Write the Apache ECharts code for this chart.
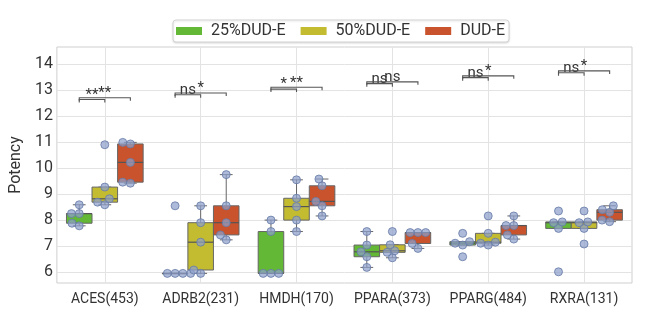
<!DOCTYPE html>
<html><head><meta charset="utf-8">
<script src="https://cdn.jsdelivr.net/npm/echarts@6/dist/echarts.min.js"></script>
<style>html,body{margin:0;padding:0;background:#fff}#c{width:650px;height:325px}</style>
</head><body><div id="c"></div>
<script>
// ---- data ----
const categories = ['ACES(453)', 'ADRB2(231)', 'HMDH(170)', 'PPARA(373)', 'PPARG(484)', 'RXRA(131)'];
const hueNames = ['25%DUD-E', '50%DUD-E', 'DUD-E'];
const pts25 = [
  [8.59, 8.25, 8.25, 7.88, 7.78],
  [8.55, 5.95, 5.95, 5.95, 5.95],
  [8.0, 7.56, 5.95, 5.95, 5.95],
  [7.56, 7.04, 6.78, 6.59, 6.18],
  [7.49, 7.17, 7.11, 7.04, 6.59],
  [8.35, 7.93, 7.9, 7.68, 6.01]
];
const pts50 = [
  [10.9, 9.27, 8.82, 8.69, 8.59],
  [8.55, 7.9, 7.15, 6.08, 5.95],
  [9.55, 8.84, 8.52, 8.0, 7.56],
  [7.56, 7.05, 6.82, 6.76, 6.55],
  [8.16, 7.49, 7.15, 7.11, 7.04],
  [8.35, 7.93, 7.9, 7.68, 7.08]
];
const ptsFull = [
  [10.99, 10.93, 10.22, 9.46, 9.42],
  [9.75, 8.55, 7.9, 7.43, 7.24],
  [9.58, 9.32, 8.72, 8.55, 8.16],
  [7.52, 7.52, 7.52, 7.1, 6.91],
  [8.16, 7.79, 7.79, 7.43, 7.27],
  [8.55, 8.4, 8.3, 8.0, 7.94]
];
const yTicks = [6, 7, 8, 9, 10, 11, 12, 13, 14];
const sigGY = ['**', 'ns', '*', 'ns', 'ns', 'ns'];   // 25% vs 50%
const sigGO = ['**', '*', '**', 'ns', '*', '*'];     // 25% vs full
const sigLevel = [12.64, 12.82, 13.04, 13.25, 13.48, 13.67];

// ---- style / layout constants ----
const HUE_COLORS = ['#63b935', '#c3bc30', '#c9532c'];
const LINE = '#666666';
const BOX_W = 0.8 / 3;
const OFFS = [-0.8 / 3, 0, 0.8 / 3];
const R = 3.7;
const FONT = 'Roboto';

function quantile(s, q) {
  const pos = (s.length - 1) * q, lo = Math.floor(pos), hi = Math.ceil(pos);
  return s[lo] + (s[hi] - s[lo]) * (pos - lo);
}
function boxStats(vals) {
  const s = vals.slice().sort((a, b) => a - b);
  const q1 = quantile(s, 0.25), md = quantile(s, 0.5), q3 = quantile(s, 0.75);
  const iqr = q3 - q1;
  const lo = s.filter(v => v >= q1 - 1.5 * iqr)[0];
  const hiArr = s.filter(v => v <= q3 + 1.5 * iqr);
  const hi = hiArr[hiArr.length - 1];
  return [lo, q1, md, q3, hi];
}
const allPts = [pts25, pts50, ptsFull];

function renderBox(params, api) {
  const x = api.value(0);
  const mn = api.coord([x, api.value(1)]);
  const q1 = api.coord([x, api.value(2)]);
  const md = api.coord([x, api.value(3)]);
  const q3 = api.coord([x, api.value(4)]);
  const mx = api.coord([x, api.value(5)]);
  const w = api.size([BOX_W, 0])[0];
  const cx = mn[0];
  const ls = { stroke: LINE, lineWidth: 1 };
  return {
    type: 'group',
    children: [
      { type: 'line', shape: { x1: cx, y1: q3[1], x2: cx, y2: mx[1] }, style: ls },
      { type: 'line', shape: { x1: cx, y1: q1[1], x2: cx, y2: mn[1] }, style: ls },
      { type: 'line', shape: { x1: cx - w / 4, y1: mx[1], x2: cx + w / 4, y2: mx[1] }, style: ls },
      { type: 'line', shape: { x1: cx - w / 4, y1: mn[1], x2: cx + w / 4, y2: mn[1] }, style: ls },
      { type: 'rect', shape: { x: cx - w / 2, y: q3[1], width: w, height: Math.max(q1[1] - q3[1], 0.5) },
        style: { fill: api.visual('color'), stroke: LINE, lineWidth: 1 } },
      { type: 'line', shape: { x1: cx - w / 2, y1: md[1], x2: cx + w / 2, y2: md[1] }, style: { stroke: '#555', lineWidth: 1.2 } }
    ]
  };
}

function renderSig(params, api) {
  const i = api.value(0), h = api.value(1), kind = api.value(2);
  const x1 = i + OFFS[0], x2 = i + (kind === 0 ? OFFS[1] : OFFS[2]);
  const p1 = api.coord([x1, h]), p2 = api.coord([x2, h]);
  const t = 3;
  const label = kind === 0 ? sigGY[i] : sigGO[i];
  return {
    type: 'group',
    children: [
      { type: 'polyline', shape: { points: [[p1[0], p1[1] + t], [p1[0], p1[1]], [p2[0], p2[1]], [p2[0], p2[1] + t]] },
        style: { stroke: '#555', lineWidth: 1.1, fill: null } },
      { type: 'text', style: { x: (p1[0] + p2[0]) / 2, y: p1[1] + 3, text: label, align: 'center', verticalAlign: 'bottom',
        font: '15px ' + FONT, fill: '#333' } }
    ]
  };
}

const boxSeries = hueNames.map((name, k) => ({
  type: 'custom', name: name, renderItem: renderBox,
  itemStyle: { color: HUE_COLORS[k] },
  encode: { x: 0, y: [1, 2, 3, 4, 5] },
  z: 2,
  data: allPts[k].map((vals, i) => [i + OFFS[k]].concat(boxStats(vals)))
}));

const sigData = [];
categories.forEach((c, i) => { sigData.push([i, sigLevel[i], 0]); sigData.push([i, sigLevel[i] + 0.07, 1]); });

const chart = echarts.init(document.getElementById('c'), null, { renderer: 'canvas' });
const option = {
  animation: false,
  backgroundColor: '#fff',
  textStyle: { fontFamily: FONT },
  legend: {
    data: hueNames.map(n => ({ name: n, icon: 'rect' })),
    left: 173, top: 20,
    padding: [3, 4, 3, 3],
    itemWidth: 26, itemHeight: 8, itemGap: 15,
    textStyle: { fontSize: 16, fontFamily: FONT, color: '#333', padding: [0, 0, 0, 4] },
    borderColor: '#d4d4d4', borderWidth: 1, borderRadius: 3,
    shadowBlur: 2, shadowColor: 'rgba(0,0,0,0.12)', shadowOffsetY: 1, backgroundColor: '#fff'
  },
  grid: { left: 49, right: 18, top: 47, bottom: 42, show: true, borderColor: '#cfcfcf', borderWidth: 1 },
  xAxis: {
    type: 'value', min: -0.5, max: 5.5,
    axisLine: { show: false },
    axisTick: { show: false, customValues: [0, 1, 2, 3, 4, 5] },
    axisLabel: { customValues: [0, 1, 2, 3, 4, 5], formatter: v => categories[Math.round(v)], fontSize: 14, color: '#333', margin: 9, fontFamily: FONT },
    splitLine: { show: true, lineStyle: { color: '#e3e3e3' } }
  },
  yAxis: {
    type: 'value', min: 5.58, max: 14.66,
    name: 'Potency', nameLocation: 'middle', nameGap: 21,
    nameTextStyle: { fontSize: 16, color: '#333', fontFamily: FONT },
    axisLine: { show: false },
    axisTick: { show: false, customValues: yTicks },
    axisLabel: { customValues: yTicks, fontSize: 16, color: '#333', margin: 4, fontFamily: FONT },
    splitLine: { show: true, lineStyle: { color: '#e3e3e3' } }
  },
  series: boxSeries.concat([
    { id: 'pts', type: 'scatter', name: 'points', symbol: 'circle', symbolSize: 8, z: 4,
      itemStyle: { color: 'rgba(141,160,203,0.9)', borderColor: '#667aa6', borderWidth: 1 },
      data: [] },
    { type: 'custom', name: 'sig', renderItem: renderSig, encode: { x: 0, y: 1 }, z: 5, data: sigData }
  ])
};
chart.setOption(option);

function swarm(cxVal, values) {
  const cxPx = chart.convertToPixel({ gridIndex: 0 }, [cxVal, 0])[0];
  const items = values.map(v => ({ v: v, y: -chart.convertToPixel({ gridIndex: 0 }, [cxVal, v])[1] }));
  items.sort((a, b) => a.y - b.y);
  const placed = [];
  for (const it of items) {
    const nb = [];
    for (let k = placed.length - 1; k >= 0; k--) {
      if (it.y - placed[k].y < 2 * R) nb.push(placed[k]); else break;
    }
    const cands = [cxPx];
    let lf = true;
    for (const n of nb) {
      const dy = it.y - n.y;
      const dx = Math.sqrt(Math.max(4 * R * R - dy * dy, 0)) * 1.05;
      if (lf) cands.push(n.x - dx, n.x + dx); else cands.push(n.x + dx, n.x - dx);
      lf = !lf;
    }
    const sorted = cands.map((c, idx) => ({ c, idx }))
      .sort((a, b) => (Math.abs(a.c - cxPx) - Math.abs(b.c - cxPx)) || (a.idx - b.idx));
    let chosen = cxPx;
    for (const s of sorted) {
      if (nb.every(n => (n.x - s.c) ** 2 + (n.y - it.y) ** 2 >= 4 * R * R - 1e-6)) { chosen = s.c; break; }
    }
    it.x = chosen;
    placed.push(it);
  }
  return items.map(it => [chart.convertFromPixel({ gridIndex: 0 }, [it.x, -it.y])[0], it.v]);
}

const ptData = [];
allPts.forEach((hue, k) => hue.forEach((vals, i) => { swarm(i + OFFS[k], vals).forEach(p => ptData.push(p)); }));
chart.setOption({ series: [{ id: 'pts', data: ptData }] });
</script>
</body></html>
